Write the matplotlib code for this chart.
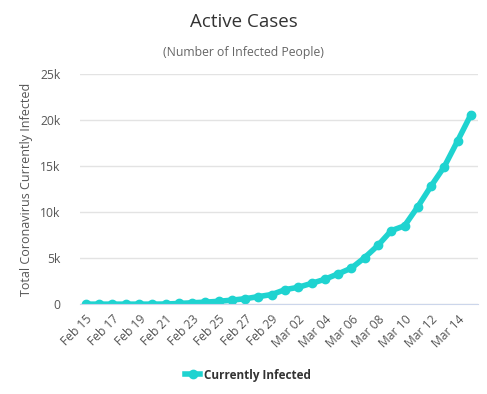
import matplotlib
matplotlib.use("Agg")
import matplotlib.pyplot as plt
from matplotlib.ticker import FuncFormatter

plt.rcParams["font.family"] = ["Open Sans", "DejaVu Sans"]

dates = ["Feb 15", "Feb 16", "Feb 17", "Feb 18", "Feb 19", "Feb 20", "Feb 21",
         "Feb 22", "Feb 23", "Feb 24", "Feb 25", "Feb 26", "Feb 27", "Feb 28",
         "Feb 29", "Mar 01", "Mar 02", "Mar 03", "Mar 04", "Mar 05", "Mar 06",
         "Mar 07", "Mar 08", "Mar 09", "Mar 10", "Mar 11", "Mar 12", "Mar 13",
         "Mar 14", "Mar 15"]
infected = [3, 3, 3, 3, 3, 3, 17, 76, 150, 221, 311, 438, 593, 821, 1049,
            1577, 1835, 2263, 2706, 3296, 3916, 5061, 6387, 7985, 8514,
            10590, 12839, 14955, 17750, 20603]

col = "#1fd3d0"
fig = plt.figure(figsize=(4.87, 3.94), dpi=100)
ax = fig.add_axes([0.164, 0.228, 0.818, 0.584])

x = list(range(len(dates)))
ax.plot(x, infected, color=col, lw=4, marker="o", ms=6, label="Currently Infected")

ax.set_xlim(-0.45, 29.55)
ax.set_ylim(0, 25000)
ax.set_yticks([0, 5000, 10000, 15000, 20000, 25000])
ax.yaxis.set_major_formatter(FuncFormatter(lambda v, p: "0" if v == 0 else f"{int(v/1000)}k"))
ax.set_xticks(x[::2])
ax.set_xticklabels(dates[::2], rotation=45, ha="right", rotation_mode="anchor")
ax.tick_params(axis="both", length=0, labelsize=8.7, colors="#555555")
ax.tick_params(axis="y", pad=14)
ax.tick_params(axis="x", pad=6)
ax.grid(axis="y", color="#e3e3e3", lw=1)
ax.set_axisbelow(True)
for s in ["left", "right", "top"]:
    ax.spines[s].set_visible(False)
ax.spines["bottom"].set_color("#ccd6eb")

ax.set_ylabel("Total Coronavirus Currently Infected", fontsize=9, color="#555555", labelpad=5)

fig.text(0.5, 0.944, "Active Cases", ha="center", va="center", fontsize=13.5, color="#333333")
fig.text(0.5, 0.868, "(Number of Infected People)", ha="center", va="center", fontsize=8.8, color="#666666")

fig.legend(loc="center", bbox_to_anchor=(0.51, 0.048), frameon=False,
           prop={"weight": "bold", "size": 8.5}, handlelength=1.2, handletextpad=0.4,
           labelcolor="#333333")

fig.savefig("out.png", dpi=100, facecolor="white")
